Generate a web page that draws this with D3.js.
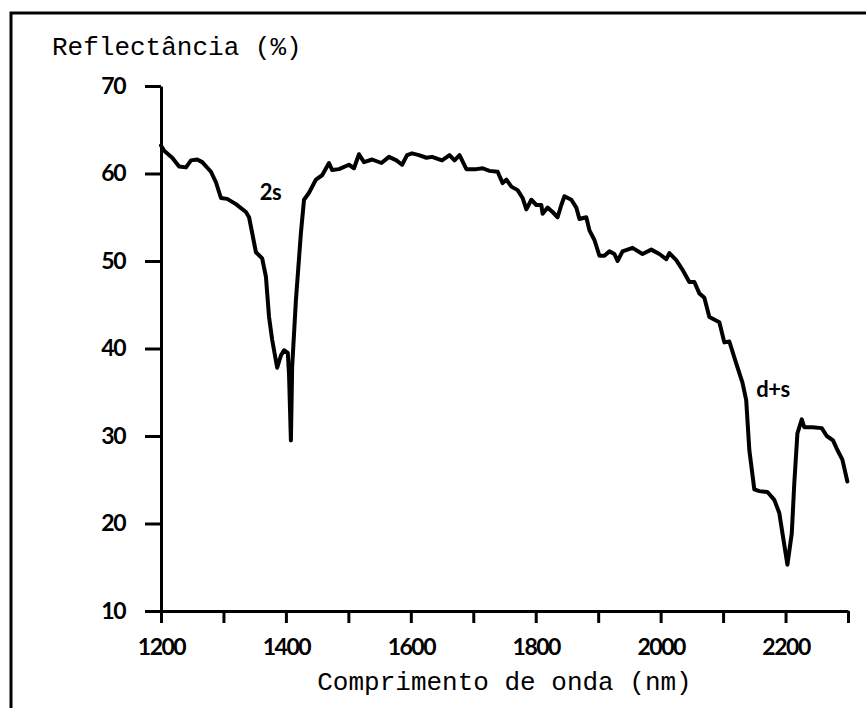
<!DOCTYPE html>
<html>
<head>
<meta charset="utf-8">
<script src="https://cdn.jsdelivr.net/npm/d3@7"></script>
<style>
  body { margin: 0; background: #fff; }
  svg { display: block; }
</style>
</head>
<body>
<div id="chart"></div>
<script>
// spectrum
let waveNm = [1200, 1205, 1218, 1229, 1240, 1248, 1258, 1266, 1280, 1288, 1296, 1306, 1320, 1336, 1341, 1346, 1352, 1362, 1368, 1373,
    1378, 1386, 1392, 1397, 1403, 1405, 1408, 1410, 1416, 1424, 1429, 1437, 1448, 1458, 1469, 1474, 1485, 1501, 1509, 1517,
    1525, 1538, 1553, 1565, 1577, 1586, 1594, 1602, 1613, 1625, 1634, 1650, 1662, 1670, 1678, 1689, 1705, 1715, 1726, 1739,
    1747, 1753, 1761, 1771, 1779, 1785, 1793, 1801, 1809, 1811, 1819, 1827, 1835, 1841, 1846, 1857, 1865, 1870, 1881, 1886,
    1894, 1902, 1910, 1918, 1926, 1931, 1939, 1955, 1971, 1985, 1998, 2009, 2014, 2025, 2035, 2046, 2054, 2062, 2070, 2078,
    2094, 2102, 2110, 2121, 2131, 2137, 2142, 2150, 2158, 2171, 2182, 2190, 2195, 2203, 2210, 2214, 2219, 2226, 2230, 2243,
    2258, 2266, 2276, 2283, 2291, 2299];
let reflectance = [63.2, 62.6, 61.8, 60.8, 60.7, 61.5, 61.6, 61.3, 60.2, 59.0, 57.2, 57.1, 56.5, 55.6, 55.0, 53.2, 51.0, 50.3, 48.2, 43.6,
    41.0, 37.8, 39.2, 39.8, 39.5, 37.0, 29.5, 37.9, 45.5, 53.2, 57.0, 57.8, 59.3, 59.8, 61.2, 60.4, 60.5, 61.0, 60.6, 62.2,
    61.3, 61.6, 61.2, 61.9, 61.5, 61.0, 62.1, 62.3, 62.1, 61.8, 61.9, 61.5, 62.1, 61.5, 62.1, 60.5, 60.5, 60.6, 60.3, 60.2,
    58.9, 59.3, 58.5, 58.1, 57.2, 55.9, 57.0, 56.4, 56.4, 55.4, 56.1, 55.6, 55.0, 56.4, 57.4, 57.0, 56.1, 54.8, 55.0, 53.5,
    52.4, 50.6, 50.6, 51.1, 50.8, 50.0, 51.1, 51.5, 50.8, 51.3, 50.8, 50.2, 50.9, 50.1, 49.0, 47.6, 47.6, 46.3, 45.8, 43.6,
    43.0, 40.7, 40.8, 38.3, 36.1, 34.1, 28.4, 23.9, 23.7, 23.6, 22.7, 21.2, 18.9, 15.3, 18.9, 24.6, 30.3, 31.9, 31.0, 31.0,
    30.9, 30.0, 29.5, 28.4, 27.3, 24.8];

let xTickValues = [1200, 1300, 1400, 1500, 1600, 1700, 1800, 1900, 2000, 2100, 2200, 2300];
let xTickLabels = [1200, 1400, 1600, 1800, 2000, 2200];
let yTickValues = [10, 20, 30, 40, 50, 60, 70];
let bandNames = ['2s', 'd+s'];
let bandNm = [1355, 2150];
let bandR = [57, 34.5];

let width = 866, height = 708;
let svg = d3.select('#chart').append('svg')
    .attr('width', width)
    .attr('height', height);

//Frame of the scanned page
svg.append('rect')
    .attr('x', 11).attr('y', 13)
    .attr('width', width + 20).attr('height', height + 20)
    .attr('fill', 'none')
    .attr('stroke', '#000')
    .attr('stroke-width', 3);

let xScale = d3.scaleLinear().domain([1200, 2300]).range([161, 848]);
let yScale = d3.scaleLinear().domain([10, 70]).range([611, 86]);

let tickFont = 'Lato, "DejaVu Sans", sans-serif';
let monoFont = '"Liberation Mono", "DejaVu Sans Mono", monospace';

let xAxis = d3.axisBottom(xScale)
    .tickValues(xTickValues)
    .tickSize(12)
    .tickSizeOuter(0)
    .tickPadding(16)
    .tickFormat(d => xTickLabels.includes(d) ? d : '');
let gx = svg.append('g')
    .attr('transform', 'translate(0,' + yScale(10) + ')')
    .call(xAxis);

let yAxis = d3.axisLeft(yScale)
    .tickValues(yTickValues)
    .tickSize(16)
    .tickSizeOuter(0)
    .tickPadding(20);
let gy = svg.append('g')
    .attr('transform', 'translate(' + xScale(1200) + ',0)')
    .call(yAxis);

[gx, gy].forEach(g => {
    g.select('.domain').attr('stroke', '#000').attr('stroke-width', 3);
    g.selectAll('.tick line').attr('stroke', '#000').attr('stroke-width', 3);
    g.selectAll('.tick text')
        .attr('fill', '#000')
        .style('font-family', tickFont)
        .style('font-weight', 700)
        .style('font-size', '23px')
        .style('letter-spacing', '-1.5px');
});

//Curve
let line = d3.line()
    .x((d, i) => xScale(waveNm[i]))
    .y(d => yScale(d));
svg.append('path')
    .datum(reflectance)
    .attr('d', line)
    .attr('fill', 'none')
    .attr('stroke', '#000')
    .attr('stroke-width', 4)
    .attr('stroke-linejoin', 'round')
    .attr('stroke-linecap', 'round');

//Band labels
svg.selectAll('text.band')
    .data(bandNames)
    .enter().append('text')
    .attr('class', 'band')
    .attr('x', (d, i) => xScale(bandNm[i]) + 2)
    .attr('y', (d, i) => yScale(bandR[i]))
    .style('font-family', tickFont)
    .style('font-size', '22px')
    .style('font-weight', 700)
    .style('letter-spacing', '-0.5px')
    .text(d => d);

//Axis titles
svg.append('text')
    .attr('x', 52).attr('y', 55)
    .style('font-family', monoFont)
    .style('font-size', '26px')
    .text('Reflectância (%)');
svg.append('text')
    .attr('x', (xScale(1200) + xScale(2300)) / 2)
    .attr('y', 690)
    .attr('text-anchor', 'middle')
    .style('font-family', monoFont)
    .style('font-size', '26px')
    .text('Comprimento de onda (nm)');
</script>
</body>
</html>
